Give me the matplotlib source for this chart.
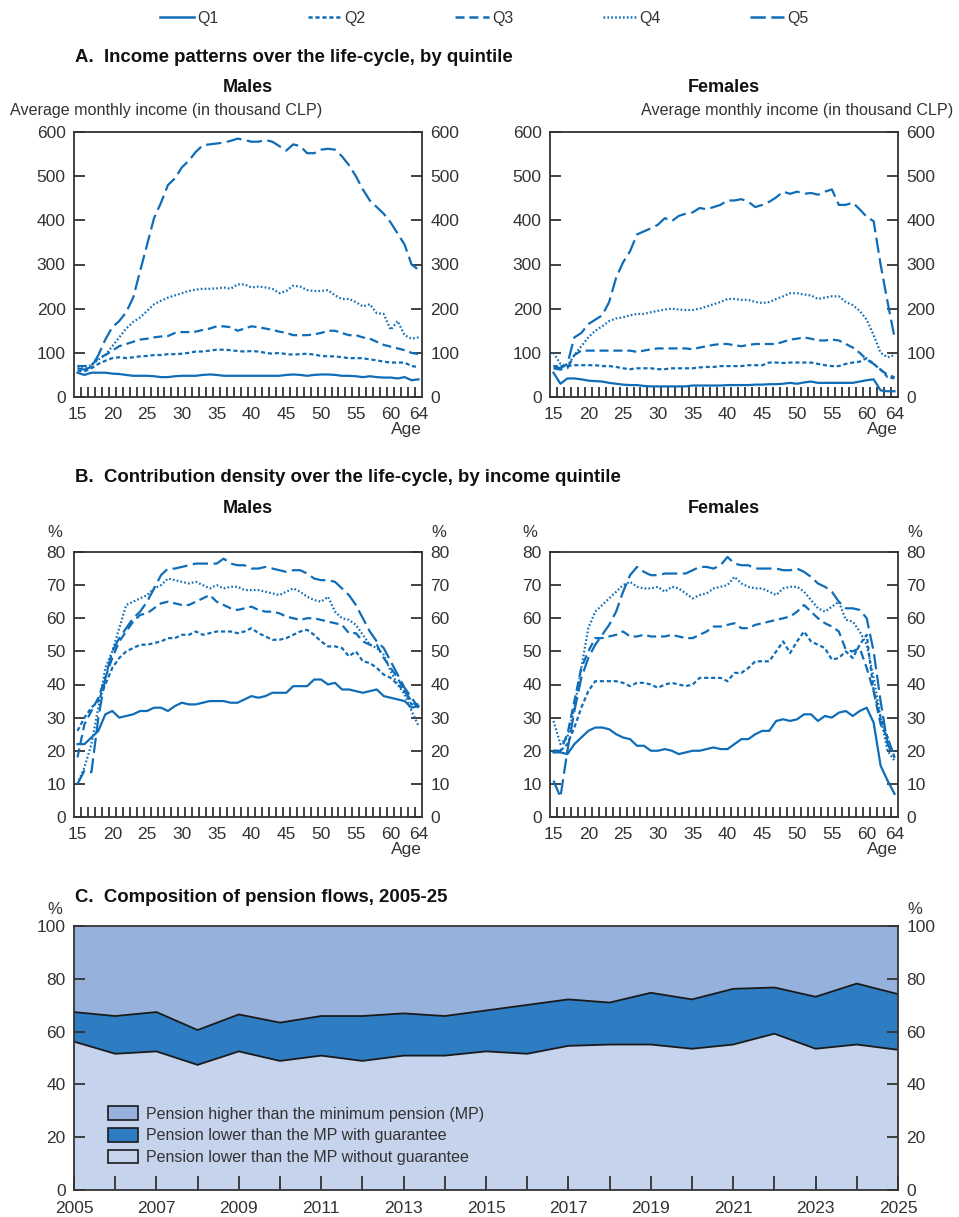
import numpy as np
import matplotlib
matplotlib.use("Agg")
import matplotlib.pyplot as plt
from matplotlib.patches import Patch
from matplotlib.lines import Line2D

plt.rcParams['font.family'] = ['Liberation Sans', 'DejaVu Sans']
plt.rcParams['lines.scale_dashes'] = False

W, H = 959, 1217
BLUE = '#0F6DB8'
INK = '#333333'
TITLE_SIZE = 13.4

ages = list(range(15, 65))
quintiles = ['Q1', 'Q2', 'Q3', 'Q4', 'Q5']

# A. Average monthly income (thousand CLP), ages 15-64
inc_m_q1 = [55, 50, 55, 55, 55, 53, 52, 50, 48, 48, 48, 47, 45, 45, 47, 48, 48, 48, 50, 51,
            50, 48, 48, 48, 48, 48, 48, 48, 48, 48, 50, 51, 50, 48, 50, 51, 51, 50, 48, 48,
            47, 45, 47, 45, 44, 44, 42, 45, 38, 40]
inc_m_q2 = [60, 58, 65, 75, 82, 88, 90, 88, 90, 92, 93, 95, 95, 97, 97, 98, 100, 103, 103, 105,
            107, 107, 106, 104, 103, 104, 103, 100, 98, 100, 97, 96, 97, 98, 96, 93, 92, 92, 90, 88,
            88, 88, 85, 83, 80, 78, 78, 78, 70, 68]
inc_m_q3 = [70, 70, 72, 88, 95, 105, 115, 120, 125, 130, 132, 135, 137, 138, 145, 147, 147, 148, 152, 155,
            160, 160, 158, 150, 155, 160, 158, 155, 152, 148, 145, 140, 140, 140, 142, 145, 150, 150, 145, 140,
            140, 135, 132, 125, 118, 114, 110, 106, 100, 97]
inc_m_q4 = [70, 68, 72, 85, 95, 115, 135, 155, 170, 180, 195, 210, 218, 225, 230, 235, 240, 243, 245, 245,
            246, 248, 245, 255, 255, 248, 250, 248, 245, 235, 240, 252, 250, 242, 240, 240, 242, 230, 222, 222,
            215, 205, 210, 190, 188, 152, 172, 140, 132, 135]
inc_m_q5 = [65, 62, 68, 95, 130, 158, 172, 192, 225, 285, 345, 405, 440, 480, 495, 520, 535, 555, 570, 572,
            574, 576, 580, 585, 582, 578, 578, 582, 578, 568, 558, 572, 568, 552, 552, 560, 562, 560, 545, 525,
            500, 470, 445, 430, 415, 395, 370, 345, 300, 288]

inc_f_q1 = [55, 30, 42, 42, 40, 37, 36, 35, 32, 30, 28, 27, 27, 25, 24, 24, 24, 24, 24, 24,
            26, 26, 26, 26, 26, 27, 27, 27, 27, 28, 28, 29, 29, 30, 32, 30, 33, 35, 32, 32,
            32, 32, 32, 32, 35, 38, 40, 15, 13, 13]
inc_f_q2 = [70, 70, 70, 72, 72, 72, 72, 70, 70, 68, 65, 63, 65, 65, 65, 63, 63, 65, 65, 65,
            65, 67, 68, 68, 70, 70, 70, 70, 72, 72, 72, 78, 78, 77, 78, 78, 78, 78, 75, 72,
            70, 70, 75, 78, 80, 88, 75, 62, 45, 42]
inc_f_q3 = [65, 62, 65, 95, 105, 105, 105, 105, 105, 105, 105, 105, 102, 105, 108, 110, 110, 110, 110, 110,
            108, 112, 115, 118, 120, 120, 117, 115, 118, 120, 120, 120, 120, 125, 130, 132, 135, 132, 128, 128,
            130, 128, 120, 112, 100, 85, 75, 62, 50, 45]
inc_f_q4 = [100, 75, 70, 95, 115, 135, 150, 160, 172, 178, 180, 185, 188, 188, 192, 195, 198, 200, 198, 197,
            197, 200, 205, 210, 215, 222, 222, 220, 220, 215, 213, 215, 222, 228, 235, 235, 232, 230, 222, 225,
            228, 228, 215, 208, 195, 175, 140, 100, 90, 95]
inc_f_q5 = [70, 65, 75, 135, 145, 165, 175, 185, 215, 270, 305, 330, 368, 375, 382, 390, 405, 398, 410, 415,
            418, 428, 425, 430, 435, 445, 445, 448, 442, 430, 435, 442, 452, 465, 460, 465, 460, 462, 458, 465,
            470, 435, 435, 440, 425, 408, 398, 300, 215, 135]

# B. Contribution density (%), ages 15-64
den_m_q1 = [22, 22, 24, 26, 31, 32, 30, 30.5, 31, 32, 32, 33, 33, 32, 33.5, 34.5, 34, 34, 34.5, 35,
            35, 35, 34.5, 34.5, 35.5, 36.5, 36, 36.5, 37.5, 37.5, 37.5, 39.5, 39.5, 39.5, 41.5, 41.5, 40, 40.5, 38.5, 38.5,
            38, 37.5, 38, 38.5, 36.5, 36, 35.5, 35, 33, 33.5]
den_m_q2 = [26, 30, 33, 35, 40, 45, 48, 50, 51, 52, 52, 52.5, 53, 54, 54, 55, 55, 56, 55, 55.5,
            56, 56, 56, 55.5, 56, 57, 55.5, 54.5, 53.5, 53.5, 54, 55, 56, 56.5, 55, 53, 51.5, 51.5, 51, 48.5,
            50, 47, 46.5, 45, 43, 42, 40, 38, 34, 34]
den_m_q3 = [18, 28, 32, 36, 42, 48, 53, 56, 59, 61, 61.5, 63, 64.5, 65, 64.5, 64, 64, 65, 66, 67,
            65, 64, 63, 62.5, 63, 63.5, 62.5, 62, 62, 61.5, 60.5, 60, 59.5, 60, 60, 59.5, 59, 58.5, 58, 55.5,
            55.5, 53, 52, 52, 48, 45, 42, 38, 35, 33]
den_m_q4 = [10, 15, 22, 33, 45, 50, 57, 64, 65, 66, 67, 69, 70, 72, 71.5, 71, 70.5, 71, 70, 69,
            70, 69, 69.5, 69.5, 68.5, 68.5, 68.5, 68, 67.5, 67, 68, 69, 68, 66.5, 65.5, 65, 66.5, 62, 60, 59.5,
            58, 55, 52, 51, 49, 44, 40, 37, 32, 27.5]
den_m_q5 = [10, 14, 13.5, 30, 42, 50, 54, 57, 60, 62, 65, 69, 73, 75, 75, 75.5, 76, 76.5, 76.5, 76.5,
            76.5, 78, 76.5, 76, 76, 75, 75, 75.5, 75, 74.5, 74, 74.5, 74.5, 73.5, 72, 71.5, 71.5, 71, 69, 67,
            64, 60, 56, 53, 51, 47, 43, 39, 36, 33]

den_f_q1 = [19.5, 19.5, 19, 22, 24, 26, 27, 27, 26.5, 25, 24, 23.5, 21.5, 21.5, 20, 20, 20.5, 20, 19, 19.5,
            20, 20, 20.5, 21, 20.5, 20.5, 22, 23.5, 23.5, 25, 26, 26, 29, 29.5, 29, 29.5, 31, 31, 29, 30.5,
            30, 31.5, 32, 30.5, 32, 33, 28.5, 15.5, 11, 7]
den_f_q2 = [20, 20, 22, 27, 33, 38, 41, 41, 41, 41, 40.5, 39.5, 40.5, 40.5, 40, 39, 40, 40.5, 40, 39.5,
            40, 42, 42, 42, 42, 41, 43.5, 43.5, 45, 47, 47, 47, 50, 53, 49.5, 53, 56, 53, 52, 51,
            47.5, 48, 50, 48, 52, 55, 38, 30, 24, 18]
den_f_q3 = [20, 20, 25, 35, 45, 50, 54, 54, 54.5, 55, 56, 54.5, 54.5, 55, 54.5, 54.5, 54.5, 55, 54.5, 54,
            54, 55, 56, 57.5, 57.5, 58, 58.5, 57, 57, 58, 58.5, 59, 59.5, 60, 60.5, 62, 64, 62, 60, 58.5,
            57.5, 56, 50.5, 50, 51, 45, 38, 28, 24, 18]
den_f_q4 = [29, 22, 24, 33, 45, 57, 62, 64, 66, 68, 70, 71, 69.5, 69, 69, 69.5, 68, 69.5, 69, 67.5,
            66, 67, 67.5, 69, 69.5, 70, 72.5, 70.5, 69.5, 69, 69, 68, 67, 69, 69.5, 69.5, 68, 65.5, 63, 62,
            63.5, 65, 59.5, 59, 56, 52, 42, 30, 20, 17]
den_f_q5 = [11, 6, 20, 32, 42, 48, 52, 55, 58, 62, 68, 73, 75.5, 74, 73, 73, 73.5, 73.5, 73.5, 73.5,
            74.5, 75.5, 75.5, 75, 76, 78.5, 76.5, 76, 76, 75, 75, 75, 75, 74.5, 74.5, 75, 74, 72.5, 70.5, 69.5,
            68, 65, 63, 63, 62.5, 60, 50, 35, 22, 18]

# C. Composition of pension flows (%), 2005-2025
years = list(range(2005, 2026))
without_guarantee = [56.2, 51.6, 52.5, 47.4, 52.5, 48.9, 50.9, 48.9, 50.9, 50.9, 52.5,
                     51.6, 54.6, 55.1, 55.1, 53.5, 55.1, 59.2, 53.5, 55.1, 53.1]
below_mp_total = [67.4, 65.9, 67.4, 60.6, 66.5, 63.4, 65.9, 65.9, 66.9, 65.9, 68.0,
                  70.1, 72.2, 71.0, 74.7, 72.2, 76.2, 76.7, 73.2, 78.2, 74.2]
c_labels = ['Pension higher than the minimum pension (MP)',
            'Pension lower than the MP with guarantee',
            'Pension lower than the MP without guarantee']
c_colors = ['#96B2DC', '#2E7CC1', '#C6D3EC']

styles = {
    'Q1': dict(linestyle='-'),
    'Q2': dict(linestyle=(0, (3, 2))),
    'Q3': dict(linestyle=(0, (6.5, 3.5))),
    'Q4': dict(linestyle=(0, (1.2, 1.6))),
    'Q5': dict(linestyle=(0, (11, 4))),
}


def px_axes(fig, left, top, right, bottom):
    return fig.add_axes([left / W, 1 - bottom / H, (right - left) / W, (bottom - top) / H])


def style_axes(ax):
    for s in ax.spines.values():
        s.set_color(INK)
        s.set_linewidth(1.3)
    ax.tick_params(axis='both', which='both', colors=INK, labelcolor=INK, labelsize=12.5,
                   direction='in', width=1.3)


def age_panel(ax, series, ymax, ystep):
    for q, vals in zip(quintiles, series):
        ax.plot(ages, vals, color=BLUE, lw=1.6, **styles[q])
    ax.set_xlim(14.5, 64.5)
    ax.set_ylim(0, ymax)
    ax.set_yticks(np.arange(0, ymax + 1, ystep))
    ax.set_xticks([15, 20, 25, 30, 35, 40, 45, 50, 55, 60, 64])
    ax.set_xticks(np.arange(15.5, 64, 1.0), minor=True)
    style_axes(ax)
    ax.tick_params(axis='x', which='major', length=0, pad=7)
    ax.tick_params(axis='x', which='minor', length=7.5)
    ax.tick_params(axis='y', which='major', length=8, left=True, right=True,
                   labelleft=True, labelright=True, pad=6)
    ax.text(1.0, -0.095, 'Age', transform=ax.transAxes, ha='right', va='top',
            fontsize=12.5, color=INK)


def title(x, y, s, **kw):
    fig.text(x / W, 1 - y / H, s, fontweight='bold', color='#111111', va='center', **kw)


fig = plt.figure(figsize=(W / 100, H / 100), dpi=100)

# top legend
handles = [Line2D([0], [0], color=BLUE, lw=1.8, **styles[q]) for q in quintiles]
fig.legend(handles, quintiles, loc='center', bbox_to_anchor=(0.505, 1 - 18 / H), ncol=5,
           frameon=False, fontsize=11.5, handlelength=2.1, handletextpad=0.2,
           columnspacing=5.6, labelcolor=INK)

# Panel A
title(75, 57, 'A.  Income patterns over the life-cycle, by quintile', fontsize=TITLE_SIZE)
axA1 = px_axes(fig, 74, 132, 422, 397)
axA2 = px_axes(fig, 550, 132, 898, 397)
age_panel(axA1, [inc_m_q1, inc_m_q2, inc_m_q3, inc_m_q4, inc_m_q5], 600, 100)
age_panel(axA2, [inc_f_q1, inc_f_q2, inc_f_q3, inc_f_q4, inc_f_q5], 600, 100)
title(248, 88, 'Males', fontsize=13, ha='center')
title(724, 88, 'Females', fontsize=13, ha='center')
fig.text(10 / W, 1 - 111 / H, 'Average monthly income (in thousand CLP)', fontsize=11.6,
         color=INK, va='center')
fig.text(953 / W, 1 - 111 / H, 'Average monthly income (in thousand CLP)', fontsize=11.6,
         color=INK, va='center', ha='right')

# Panel B
title(75, 477, 'B.  Contribution density over the life-cycle, by income quintile', fontsize=TITLE_SIZE)
axB1 = px_axes(fig, 74, 552, 422, 817)
axB2 = px_axes(fig, 550, 552, 898, 817)
age_panel(axB1, [den_m_q1, den_m_q2, den_m_q3, den_m_q4, den_m_q5], 80, 10)
age_panel(axB2, [den_f_q1, den_f_q2, den_f_q3, den_f_q4, den_f_q5], 80, 10)
title(248, 509, 'Males', fontsize=13, ha='center')
title(724, 509, 'Females', fontsize=13, ha='center')
for x in (55, 439, 530, 915):
    fig.text(x / W, 1 - 533 / H, '%', fontsize=12, color=INK, ha='center', va='center')

# Panel C
title(75, 897, 'C.  Composition of pension flows, 2005-25', fontsize=TITLE_SIZE)
for x in (55, 915):
    fig.text(x / W, 1 - 909 / H, '%', fontsize=12, color=INK, ha='center', va='center')
axC = px_axes(fig, 74, 926, 898, 1190)
wo = np.array(without_guarantee)
tot = np.array(below_mp_total)
axC.stackplot(years, wo, tot - wo, 100 - tot, colors=[c_colors[2], c_colors[1], c_colors[0]],
              linewidth=0)
axC.plot(years, wo, color='#1a1a1a', lw=1.3)
axC.plot(years, tot, color='#1a1a1a', lw=1.3)
axC.set_xlim(2005, 2025)
axC.set_ylim(0, 100)
axC.set_yticks(range(0, 101, 20))
axC.set_xticks(years)
axC.set_xticklabels([str(y) if y % 2 == 1 else '' for y in years])
style_axes(axC)
axC.tick_params(axis='x', which='major', length=10, pad=8)
axC.tick_params(axis='y', which='major', length=8, left=True, right=True,
                labelleft=True, labelright=True, pad=6)
c_handles = [Patch(facecolor=c, edgecolor='#1a1a1a', linewidth=1.2) for c in c_colors]
axC.legend(c_handles, c_labels, loc='lower left', bbox_to_anchor=(0.024, 0.04),
           frameon=False, fontsize=11.5, handlelength=1.9, handleheight=0.95,
           handletextpad=0.5, labelspacing=0.4, labelcolor=INK)

fig.savefig('out.png', dpi=100)
